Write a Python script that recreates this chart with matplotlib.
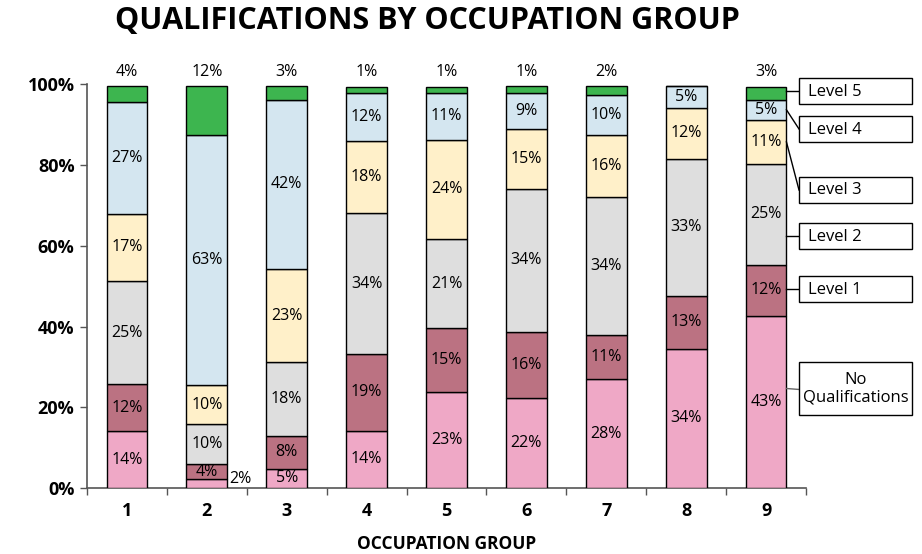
import matplotlib
matplotlib.use('Agg')
import matplotlib.pyplot as plt
from matplotlib.patches import Rectangle
from matplotlib.lines import Line2D
import numpy as np

plt.rcParams['font.family'] = ['Open Sans', 'DejaVu Sans']

# occupation groups
groups = ['1', '2', '3', '4', '5', '6', '7', '8', '9']
levels = ['No\nQualifications', 'Level 1', 'Level 2', 'Level 3', 'Level 4', 'Level 5']

# segment heights (%), bottom to top
no_qual = [14.1, 2.2, 4.9, 14.3, 23.9, 22.4, 27.1, 34.6, 42.7]
level1 = [11.6, 3.8, 8.1, 18.9, 15.7, 16.4, 10.9, 13.1, 12.6]
level2 = [25.7, 9.8, 18.2, 34.9, 22.1, 35.2, 34.1, 33.9, 25.0]
level3 = [16.6, 9.7, 23.1, 17.9, 24.6, 14.9, 15.3, 12.6, 10.9]
level4 = [27.6, 62.0, 41.8, 11.8, 11.5, 9.0, 10.0, 5.3, 5.0]
level5 = [4.0, 12.1, 3.5, 1.6, 1.6, 1.6, 2.1, 0.0, 3.2]

# printed labels
lab_no_qual = ['14%', '2%', '5%', '14%', '23%', '22%', '28%', '34%', '43%']
lab_level1 = ['12%', '4%', '8%', '19%', '15%', '16%', '11%', '13%', '12%']
lab_level2 = ['25%', '10%', '18%', '34%', '21%', '34%', '34%', '33%', '25%']
lab_level3 = ['17%', '10%', '23%', '18%', '24%', '15%', '16%', '12%', '11%']
lab_level4 = ['27%', '63%', '42%', '12%', '11%', '9%', '10%', '5%', '5%']
lab_level5 = ['4%', '12%', '3%', '1%', '1%', '1%', '2%', '', '3%']

series = [no_qual, level1, level2, level3, level4, level5]
series_labels = [lab_no_qual, lab_level1, lab_level2, lab_level3, lab_level4, lab_level5]
colors = ['#efa8c6', '#bb7282', '#dedede', '#fff0c9', '#d4e6f0', '#3db54f']

W, H = 922, 554
fig = plt.figure(figsize=(W / 100, H / 100), dpi=100)
ax = fig.add_axes([87 / W, 1 - 488.3 / H, (806 - 87) / W, (488.3 - 84.3) / H])

x = np.arange(len(groups))
bw = 0.51
bottom = np.zeros(len(groups))
for vals, labs, col in zip(series, series_labels, colors):
    vals = np.array(vals)
    ax.bar(x, vals, bw, bottom=bottom, color=col, edgecolor='black', linewidth=1, zorder=3)
    bottom = bottom + vals

# labels inside segments
bottom = np.zeros(len(groups))
for k, (vals, labs) in enumerate(zip(series, series_labels)):
    for i in range(len(groups)):
        v = vals[i]
        if labs[i] == '':
            continue
        if k == 5:
            ax.text(x[i], 101.0, labs[i], ha='center', va='bottom', fontsize=11.5, clip_on=False)
        elif k == 0 and i == 1:
            ax.text(x[i] + bw / 2 + 0.02, 0.3, labs[i], ha='left', va='bottom', fontsize=11.5)
        else:
            ax.text(x[i], bottom[i] + v / 2, labs[i], ha='center', va='center', fontsize=11.5, zorder=4)
    bottom = bottom + np.array(vals)

ax.set_xlim(-0.5, len(groups) - 0.5)
ax.set_ylim(0, 100)
ax.set_yticks([0, 20, 40, 60, 80, 100])
ax.set_yticklabels(['0%', '20%', '40%', '60%', '80%', '100%'], fontsize=13, fontweight='bold')
ax.set_xticks(x)
ax.set_xticklabels(groups, fontsize=13, fontweight='bold')
ax.set_xticks(np.arange(len(groups) + 1) - 0.5, minor=True)
ax.tick_params(axis='x', which='major', length=0, pad=10)
ax.tick_params(axis='x', which='minor', length=5, width=1, color='#555555', direction='out')
ax.tick_params(axis='y', length=5, width=1, color='#555555', pad=4)
for s in ['top', 'right']:
    ax.spines[s].set_visible(False)
for s in ['left', 'bottom']:
    ax.spines[s].set_color('#555555')
    ax.spines[s].set_linewidth(1.2)
ax.set_xlabel('OCCUPATION GROUP', fontsize=12.5, fontweight='bold', labelpad=11)

fig.text(427 / W, 1 - 21 / H, 'QUALIFICATIONS BY OCCUPATION GROUP', ha='center', va='center',
         fontsize=22, fontweight='bold', family=['Liberation Sans Narrow', 'Open Sans', 'DejaVu Sans'])

# legend boxes on the right (pixel layout), bottom to top order as in levels
box_y = [(362, 415), (276, 302), (223, 249), (177, 203), (116, 142), (78, 104)]
bx0, bx1 = 799, 912
last = len(groups) - 1
bar_right = x[last] + bw / 2
seg_bottom = 0.0
for k, lev in enumerate(levels):
    y0, y1 = box_y[k]
    fig.patches.append(Rectangle((bx0 / W, 1 - y1 / H), (bx1 - bx0) / W, (y1 - y0) / H,
                                 transform=fig.transFigure, facecolor='white', edgecolor='black',
                                 linewidth=1, zorder=5))
    if '\n' in lev:
        fig.text((bx0 + bx1) / 2 / W, 1 - (y0 + y1) / 2 / H, lev, ha='center', va='center',
                 fontsize=12, linespacing=1.15, zorder=6)
    else:
        fig.text((bx0 + 9) / W, 1 - (y0 + y1 + 1) / 2 / H, lev, ha='left', va='center', fontsize=12, zorder=6)
    # connector from segment of last bar to box
    seg_top = seg_bottom + series[k][last]
    yc_fig = 1 - (y0 + y1) / 2 / H
    yc_data = ax.transData.inverted().transform(fig.transFigure.transform((0, yc_fig)))[1]
    if seg_bottom <= yc_data <= seg_top:
        ya = yc_data
    else:
        ya = (seg_bottom + seg_top) / 2
    p0 = fig.transFigure.inverted().transform(ax.transData.transform((bar_right, ya)))
    lc = '#666666' if k == 0 else 'black'
    fig.lines.append(Line2D([p0[0], bx0 / W], [p0[1], yc_fig], transform=fig.transFigure,
                            color=lc, linewidth=1))
    seg_bottom = seg_top

fig.savefig('out.png', dpi=100)
